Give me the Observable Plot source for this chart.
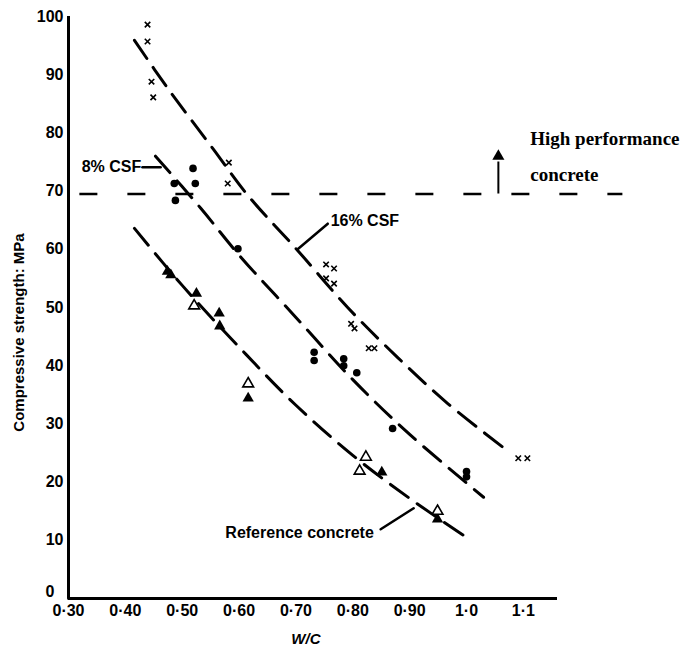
<!DOCTYPE html>
<html>
<head>
<meta charset="utf-8">
<script src="https://cdn.jsdelivr.net/npm/d3@7"></script>
<script src="https://cdn.jsdelivr.net/npm/@observablehq/plot@0.6"></script>
<style>
  html, body { margin: 0; padding: 0; background: #fff; }
  #chart svg { display: block; overflow: visible; }
</style>
</head>
<body>
<div id="chart"></div>
<script>
// Compressive strength against water/cement ratio for three concretes.

// Axis ticks and their printed labels
const xTicks = [0.3, 0.4, 0.5, 0.6, 0.7, 0.8, 0.9, 1.0, 1.1];
const xTickLabels = ["0·30", "0·40", "0·50", "0·60", "0·70", "0·80", "0·90", "1·0", "1·1"];
const yTicks = [0, 10, 20, 30, 40, 50, 60, 70, 80, 90, 100];

// Measured results [W/C, MPa]
const csf16Points = [
  [0.439, 98.6], [0.439, 95.7], [0.446, 88.8], [0.449, 86.1],
  [0.582, 74.9], [0.580, 71.3],
  [0.753, 57.4], [0.767, 56.7], [0.753, 55.0], [0.767, 54.1],
  [0.797, 47.2], [0.803, 46.4],
  [0.828, 43.0], [0.838, 43.0],
  [1.091, 24.1], [1.107, 24.1]
];
const csf8Points = [
  [0.486, 71.3], [0.488, 68.4], [0.519, 73.9], [0.523, 71.3],
  [0.598, 60.1],
  [0.732, 42.3], [0.732, 40.9], [0.784, 41.2], [0.784, 40.0], [0.807, 38.8],
  [0.870, 29.2], [1.0, 21.8], [1.0, 20.9]
];
const refSolidPoints = [
  [0.474, 56.2], [0.480, 55.6], [0.525, 52.4], [0.565, 49.0], [0.566, 46.8],
  [0.616, 34.4], [0.851, 21.7], [0.949, 13.6]
];
const refOpenPoints = [
  [0.521, 50.3], [0.616, 36.9], [0.823, 24.3], [0.812, 21.9], [0.949, 15.0]
];

// Fitted trend curves [W/C, MPa]
const csf16Curve = [
  [0.416, 95.9], [0.475, 87.6], [0.554, 77.3], [0.616, 69.2], [0.703, 59.8],
  [0.791, 50.0], [0.879, 41.4], [0.967, 33.5], [1.072, 25.4]
];
const csf8Curve = [
  [0.453, 76.0], [0.533, 67.0], [0.600, 59.0], [0.700, 48.3], [0.800, 37.6],
  [0.900, 28.2], [1.030, 17.4]
];
const refCurve = [
  [0.416, 63.6], [0.500, 53.8], [0.600, 43.2], [0.700, 33.2], [0.800, 24.6],
  [0.900, 17.2], [1.000, 10.5]
];

// High performance concrete threshold
const hpcLevel = 69.5;
const hpcSpan = [0.32, 1.275];

// Leader lines from labels to curves
const leaders = [
  [[0.430, 74.1], [0.462, 74.1]],
  [[0.703, 60.0], [0.756, 64.4]],
  [[0.849, 11.9], [0.907, 15.5]]
];

const labelsEnd = [
  {text: "8% CSF", x: 0.428, y: 74.1},
  {text: "Reference concrete", x: 0.837, y: 11.2}
];
const labelsStart = [
  {text: "16% CSF", x: 0.761, y: 64.9}
];
const hpcLabel1 = [{text: "High performance", x: 1.112, y: 78.9}];
const hpcLabel2 = [{text: "concrete", x: 1.112, y: 72.7}];
const hpcArrow = {x: 1.056, from: 69.5, to: 75.0, tip: 76.0};

const sans = "'Liberation Sans', Arial, Helvetica, sans-serif";
const serif = "'Liberation Serif', 'Times New Roman', serif";
const dash = "22,11";
const xy = {x: d => d[0], y: d => d[1]};

// straight tick stroke starting at the anchor point
const tickShape = {draw(context, l) { context.moveTo(0, 0); context.lineTo(0, -l); }};

const chart = Plot.plot({
  width: 697,
  height: 655,
  marginLeft: 68,
  marginRight: 140,
  marginTop: 16,
  marginBottom: 57,
  x: {domain: [0.3, 1.16]},
  y: {domain: [0, 100]},
  style: {fontFamily: sans, fontSize: "16px", fontWeight: "bold", color: "#000", background: "#fff", overflow: "visible"},
  marks: [
    // tick labels
    Plot.axisX({ticks: xTicks, tickSize: 0, tickPadding: 6, tickFormat: d => xTickLabels[xTicks.indexOf(d)], label: null}),
    Plot.axisY({ticks: yTicks.filter(d => d > 0), tickSize: 0, tickPadding: 5, label: null}),
    Plot.axisY({ticks: [0], tickSize: 0, tickPadding: 14, dy: -7, label: null}),
    // inward tick marks
    Plot.vector(xTicks, {x: d => d, y: [0], length: 5, rotate: 0, anchor: "start", shape: tickShape, stroke: "#000", strokeWidth: 2.5}),
    Plot.vector(yTicks, {x: [0.3], y: d => d, length: 7, rotate: 90, anchor: "start", shape: tickShape, stroke: "#000", strokeWidth: 2.5}),
    // axis lines
    Plot.ruleX([0.3], {y1: 0, y2: 100, stroke: "#000", strokeWidth: 3}),
    Plot.ruleY([0], {x1: 0.3, x2: 1.16, stroke: "#000", strokeWidth: 3}),

    // threshold line
    Plot.ruleY([hpcLevel], {x1: hpcSpan[0], x2: hpcSpan[1], stroke: "#000", strokeWidth: 2.5, strokeDasharray: "18,30"}),

    // trend curves
    Plot.line(csf16Curve, {...xy, curve: "catmull-rom", stroke: "#000", strokeWidth: 3, strokeDasharray: dash}),
    Plot.line(csf8Curve, {...xy, curve: "catmull-rom", stroke: "#000", strokeWidth: 3, strokeDasharray: dash}),
    Plot.line(refCurve, {...xy, curve: "catmull-rom", stroke: "#000", strokeWidth: 3, strokeDasharray: dash}),

    // leaders
    ...leaders.map(seg => Plot.line(seg, {...xy, stroke: "#000", strokeWidth: 2.5})),

    // data points
    Plot.dot(csf16Points, {...xy, symbol: "times", r: 2.6, stroke: "#000", strokeWidth: 1.6}),
    Plot.dot(csf8Points, {...xy, r: 3.8, fill: "#000", stroke: "none"}),
    Plot.dot(refSolidPoints, {...xy, symbol: "triangle", r: 4.2, fill: "#000", stroke: "none"}),
    Plot.dot(refOpenPoints, {...xy, symbol: "triangle", r: 4, fill: "#fff", stroke: "#000", strokeWidth: 1.6}),

    // arrow marking the high performance region
    Plot.ruleX([hpcArrow.x], {y1: hpcArrow.from, y2: hpcArrow.to, stroke: "#000", strokeWidth: 2}),
    Plot.dot([hpcArrow], {x: "x", y: "tip", symbol: "triangle", r: 4.5, fill: "#000", stroke: "none"}),

    // annotations
    Plot.text(labelsEnd, {x: "x", y: "y", text: "text", textAnchor: "end", fontSize: 16, fontWeight: "bold"}),
    Plot.text(labelsStart, {x: "x", y: "y", text: "text", textAnchor: "start", fontSize: 16, fontWeight: "bold"}),
    Plot.text(hpcLabel1, {x: "x", y: "y", text: "text", textAnchor: "start", fontFamily: serif, fontSize: 19, fontWeight: "bold", letterSpacing: 0.8}),
    Plot.text(hpcLabel2, {x: "x", y: "y", text: "text", textAnchor: "start", fontFamily: serif, fontSize: 19, fontWeight: "bold", letterSpacing: 1.3}),

    // axis titles
    Plot.text(["Compressive strength: MPa"], {frameAnchor: "left", textAnchor: "middle", dx: -49, dy: 25, rotate: -90, fontSize: 15, fontWeight: "bold", letterSpacing: 1.6}),
    Plot.text(["W/C"], {x: [0.7175], frameAnchor: "bottom", dy: 45, fontSize: 15, fontWeight: "bold", fontStyle: "italic"})
  ]
});

document.getElementById("chart").appendChild(chart);
</script>
</body>
</html>
